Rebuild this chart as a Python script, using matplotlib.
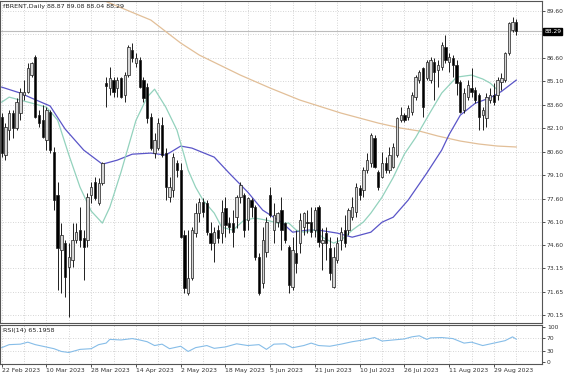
import matplotlib
matplotlib.use("Agg")
import matplotlib.pyplot as plt
import matplotlib.transforms as mtransforms

# daily OHLC (bar 0 = 22 Feb 2023)
opens = [82.81, 80.38, 81.98, 83.07, 82.11, 83.07, 84.22, 84.41, 85.50, 86.65,
         82.94, 82.62, 81.34, 83.13, 80.57, 77.82, 74.30, 74.75, 73.21, 73.66,
         74.94, 75.58, 75.07, 74.94, 77.82, 78.65, 77.31, 78.59, 84.99, 84.67,
         85.18, 84.67, 85.31, 84.22, 85.50, 87.10, 86.27, 86.46, 85.18, 84.73,
         82.81, 80.51, 80.83, 82.30, 80.51, 77.69, 78.14, 79.87, 79.42, 75.26,
         71.55, 72.51, 75.39, 76.67, 77.37, 77.31, 75.39, 74.75, 75.58, 75.39,
         76.99, 76.03, 76.03, 76.41, 77.69, 77.82, 76.22, 77.50, 77.05, 73.85,
         72.19, 74.17, 77.82, 75.58, 76.09, 76.86, 76.03, 74.49, 71.93, 74.11,
         74.75, 75.77, 76.09, 76.09, 75.58, 77.05, 74.75, 75.39, 74.43, 71.93,
         73.66, 74.94, 75.58, 75.58, 76.41, 76.73, 78.27, 78.14, 79.42, 79.87,
         81.47, 79.29, 78.97, 79.87, 79.42, 79.61, 80.38, 82.62, 82.94, 82.81,
         83.13, 84.09, 85.18, 85.95, 85.31, 85.18, 86.33, 85.82, 86.01, 87.29,
         86.33, 86.59, 86.14, 85.05, 83.26, 84.09, 84.67, 84.54, 84.22, 82.94,
         82.75, 83.90, 84.22, 84.22, 85.05, 85.18, 86.91, 88.38, 88.87]
highs = [83.07, 82.43, 83.26, 83.26, 84.03, 84.67, 85.18, 86.27, 86.33, 86.78,
         83.26, 83.58, 83.45, 83.26, 80.89, 78.65, 76.03, 74.94, 74.75, 76.03,
         76.03, 77.05, 75.58, 77.95, 78.65, 78.97, 78.91, 79.93, 85.37, 86.01,
         85.37, 85.37, 85.37, 85.69, 87.42, 87.55, 86.91, 86.65, 85.37, 84.99,
         83.07, 81.79, 82.75, 82.81, 80.83, 78.97, 80.51, 80.06, 79.87, 75.58,
         75.58, 75.77, 77.31, 77.63, 77.63, 77.50, 76.09, 75.77, 75.90, 77.50,
         77.69, 76.41, 76.86, 77.82, 78.65, 77.95, 77.69, 77.63, 77.18, 74.11,
         75.77, 76.41, 78.33, 77.31, 76.73, 77.69, 76.09, 74.62, 75.13, 75.58,
         76.67, 76.73, 76.86, 77.05, 77.05, 77.18, 75.71, 75.77, 75.13, 74.49,
         75.13, 75.77, 76.54, 76.99, 77.69, 78.59, 78.46, 79.61, 80.51, 81.79,
         81.66, 79.42, 80.57, 80.25, 80.89, 81.15, 82.81, 83.45, 83.07, 83.58,
         84.41, 85.50, 85.82, 86.01, 86.46, 86.65, 86.59, 86.46, 87.61, 88.06,
         86.91, 86.78, 86.46, 85.18, 84.67, 85.18, 85.95, 84.73, 84.35, 83.45,
         84.35, 84.67, 84.99, 85.37, 85.63, 86.97, 88.89, 89.21, 89.08]
lows = [80.25, 80.06, 81.34, 81.47, 81.98, 82.62, 83.90, 84.35, 85.37, 82.75,
        82.17, 81.47, 80.70, 80.51, 76.86, 71.74, 71.55, 71.29, 70.01, 73.21,
        74.75, 74.49, 72.38, 74.49, 77.31, 77.50, 77.18, 78.46, 83.45, 84.22,
        84.09, 84.09, 84.03, 83.77, 85.37, 86.33, 86.01, 84.67, 83.77, 82.43,
        80.70, 80.19, 80.70, 80.25, 77.50, 77.37, 77.69, 78.97, 75.07, 71.55,
        71.42, 72.38, 75.13, 76.09, 76.41, 75.26, 74.30, 73.53, 74.75, 74.75,
        75.13, 75.39, 74.49, 75.71, 77.31, 75.13, 75.58, 76.41, 73.66, 71.42,
        71.87, 73.85, 76.41, 74.75, 75.77, 74.30, 74.75, 71.55, 71.74, 72.83,
        74.11, 75.26, 75.39, 75.13, 75.13, 74.49, 73.02, 73.66, 72.38, 71.87,
        73.47, 74.30, 74.49, 75.26, 76.22, 76.41, 77.50, 77.69, 79.23, 79.61,
        79.55, 78.14, 78.91, 79.23, 79.23, 79.55, 80.25, 82.49, 82.49, 82.62,
        82.94, 83.90, 84.99, 82.81, 85.18, 84.99, 83.90, 84.73, 85.82, 86.27,
        85.69, 85.37, 84.22, 83.07, 83.07, 83.90, 84.09, 83.71, 81.98, 81.98,
        82.17, 83.71, 83.58, 83.90, 84.54, 85.05, 86.78, 88.25, 88.04]
closes = [80.51, 82.17, 83.07, 82.11, 83.77, 84.41, 84.41, 85.95, 86.27, 82.81,
          82.43, 81.53, 83.26, 80.70, 77.50, 74.43, 75.26, 72.57, 73.85, 74.94,
          75.45, 74.94, 74.49, 77.69, 78.33, 77.63, 78.59, 79.87, 84.80, 85.31,
          84.41, 85.18, 84.09, 85.50, 87.29, 86.59, 86.59, 84.73, 84.03, 82.75,
          80.83, 81.34, 82.43, 80.38, 78.33, 78.33, 80.25, 79.42, 75.13, 71.87,
          72.51, 75.58, 76.67, 77.37, 76.73, 75.45, 74.75, 75.45, 75.07, 76.73,
          75.90, 75.77, 75.45, 77.69, 78.46, 75.58, 77.63, 77.05, 73.85, 71.55,
          74.94, 76.09, 76.54, 76.54, 76.67, 75.58, 74.94, 72.06, 74.30, 73.47,
          76.22, 76.67, 76.03, 75.45, 76.86, 74.81, 74.94, 74.75, 72.83, 73.85,
          74.75, 75.45, 74.75, 76.86, 77.05, 78.33, 77.82, 79.42, 80.06, 81.66,
          79.61, 78.33, 79.87, 79.42, 80.38, 80.89, 82.75, 82.94, 82.62, 83.39,
          84.22, 85.37, 85.69, 83.45, 86.33, 86.46, 85.69, 86.14, 87.42, 86.46,
          86.65, 86.14, 84.99, 83.13, 84.35, 84.86, 84.41, 83.90, 82.81, 83.26,
          84.09, 84.22, 83.77, 85.18, 85.31, 86.91, 88.83, 88.89, 88.29]

# moving averages, read at sample bars
ma_fast_idx = [0, 2, 5, 8, 12, 15, 18, 21, 24, 27, 29, 32, 36, 39, 41, 44, 47, 49, 50, 52,
               54, 57, 59, 62, 65, 68, 71, 74, 77, 79, 81, 84, 86, 89, 91, 94, 97, 99, 102, 105,
               108, 111, 115, 118, 122, 126, 129, 131, 133]
ma_fast = [83.77, 84.09, 83.90, 83.71, 83.45, 82.62, 80.40, 78.33, 76.80, 76.03, 77.05, 79.30,
           82.60, 84.09, 84.60, 83.45, 81.98, 80.30, 79.42, 78.33, 77.50, 76.67, 75.77, 75.58,
           76.22, 76.35, 76.22, 76.03, 76.03, 75.58, 75.45, 75.60, 75.13, 74.75, 74.94, 75.58,
           76.10, 76.67, 77.69, 78.95, 80.45, 81.50, 83.15, 84.35, 85.37, 85.50, 85.25, 84.99,
           84.54]
ma_mid_idx = [0, 5, 8, 13, 17, 22, 27, 31, 35, 40, 44, 48, 51, 57, 61, 66, 70, 75, 78, 82,
              85, 90, 94, 99, 102, 105, 109, 114, 118, 120, 123, 127, 131, 134, 138]
ma_mid = [84.73, 84.35, 84.03, 83.52, 82.05, 80.70, 79.80, 80.06, 80.44, 80.51, 80.38, 80.96,
          80.83, 80.25, 79.23, 78.01, 76.86, 76.09, 75.45, 75.58, 75.58, 75.39, 75.13, 75.45,
          76.09, 76.41, 77.50, 79.23, 80.70, 81.70, 82.94, 83.70, 84.05, 84.45, 85.18]
ma_slow_idx = [24, 40, 48, 53, 64, 72, 80, 91, 96, 101, 107, 112, 117, 123, 128, 133, 138]
ma_slow = [90.60, 89.02, 87.55, 86.78, 85.50, 84.67, 83.90, 83.07, 82.75, 82.43, 82.11,
           81.92, 81.60, 81.28, 81.09, 80.96, 80.90]

rsi_idx = [0, 2, 5, 7, 9, 11, 14, 16, 18, 21, 24, 26, 28, 29, 32, 35, 37, 39, 41, 43,
           45, 48, 50, 52, 55, 57, 60, 63, 66, 69, 71, 73, 76, 78, 81, 83, 85, 88, 91, 94,
           97, 100, 102, 105, 108, 110, 112, 114, 115, 118, 121, 124, 126, 129, 132, 135, 137, 138]
rsi = [41, 49.6, 51, 56.7, 49.6, 45, 38, 30, 27, 36, 38, 49.6, 54, 64.7, 63, 67, 63, 58, 47, 51,
       38, 45, 30, 41, 47, 39, 43, 52, 47, 49.6, 36, 51, 52, 40.7, 47, 54, 47, 45, 51, 58,
       63, 70, 60, 63, 66, 72, 75, 64.7, 69, 70, 67, 54, 56.7, 47, 54, 61, 72, 65.2]

date_labels = ['22 Feb 2023', '10 Mar 2023', '28 Mar 2023', '14 Apr 2023', '2 May 2023',
               '18 May 2023', '5 Jun 2023', '21 Jun 2023', '10 Jul 2023', '26 Jul 2023',
               '11 Aug 2023', '29 Aug 2023']
price_ticks = [89.60, 86.60, 85.10, 83.60, 82.10, 80.60, 79.10, 77.60, 76.10, 74.60,
               73.15, 71.65, 70.15]
last_price = 88.29

n = len(closes)
idx = list(range(n))
grid_kw = dict(color='#c8c8c8', linestyle=(0, (1, 2)), linewidth=0.6)
small = 4.3

fig = plt.figure(figsize=(5.64, 3.76), dpi=100)
ax = fig.add_axes([0, 1 - 323 / 376, 542 / 564, 322 / 376])
rax = fig.add_axes([0, 1 - 364 / 376, 542 / 564, 39 / 376], sharex=ax)

# grid
for v in price_ticks + [88.10]:
    ax.axhline(v, zorder=0, **grid_kw)
for i in range(0, n, 6):
    ax.axvline(i, zorder=0, **grid_kw)
    rax.axvline(i, zorder=0, **grid_kw)
ax.axhline(last_price, color='#bdbdbd', lw=0.8, zorder=1)

# moving averages
ax.plot(ma_slow_idx, ma_slow, color='#e2bf98', lw=0.9, zorder=2)
ax.plot(ma_mid_idx, ma_mid, color='#5a55c8', lw=0.9, zorder=2)
ax.plot(ma_fast_idx, ma_fast, color='#93d2bd', lw=0.9, zorder=2)

# candles
up = [c >= o for o, c in zip(opens, closes)]
ax.vlines(idx, lows, highs, color='#1e1e1e', lw=0.7, zorder=3)
body_h = [max(abs(c - o), 0.04) for o, c in zip(opens, closes)]
body_b = [min(o, c) for o, c in zip(opens, closes)]
ax.bar(idx, body_h, bottom=body_b, width=0.62,
       color=['#d6d6d6' if u else '#000000' for u in up],
       edgecolor='#1e1e1e', linewidth=0.5, zorder=4)

ax.set_xlim(-0.46, 144.9)
ax.set_ylim(69.64, 90.24)
ax.yaxis.tick_right()
ax.set_yticks(price_ticks)
ax.set_yticklabels([f'{v:.2f}' for v in price_ticks])
ax.tick_params(axis='y', labelsize=small, length=2, pad=1.5, colors='#333333', width=0.6)
ax.tick_params(axis='x', which='both', length=0, labelbottom=False)

tr = mtransforms.blended_transform_factory(ax.transAxes, ax.transData)
ax.text(1.004, last_price, f'{last_price:.2f}', transform=tr, ha='left', va='center',
        color='white', fontsize=small,
        bbox=dict(boxstyle='square,pad=0.2', fc='black', ec='black'))
ax.text(0.005, 0.992, 'fBRENT,Daily 88.87 89.08 88.04 88.29', transform=ax.transAxes,
        ha='left', va='top', fontsize=4.6, color='#222222')

# RSI panel
rax.plot(rsi_idx, rsi, color='#86bde8', lw=0.8)
rax.set_ylim(-6, 106)
rax.yaxis.tick_right()
rax.set_yticks([100, 70, 30, 0])
rax.set_yticklabels(['100', '70', '30', '0'])
for v in [70, 30]:
    rax.axhline(v, zorder=0, **grid_kw)
rax.tick_params(axis='y', labelsize=small, length=2, pad=1.5, colors='#333333', width=0.6)
rax.set_xticks(range(0, 12 * len(date_labels), 12))
rax.set_xticklabels(date_labels)
for lbl in rax.get_xticklabels():
    lbl.set_horizontalalignment('left')
rax.tick_params(axis='x', labelsize=4.4, length=2, pad=1, colors='#333333', width=0.6)
rax.text(0.005, 0.93, 'RSI(14) 65.1958', transform=rax.transAxes, ha='left', va='top',
         fontsize=4.6, color='#222222')

for a in (ax, rax):
    for s in a.spines.values():
        s.set_color('#555555')
        s.set_linewidth(0.8)

fig.savefig('out.png', dpi=100)
